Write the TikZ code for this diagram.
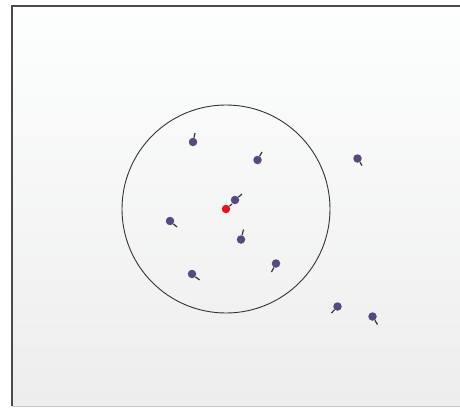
\documentclass[tikz,border=0pt]{standalone}
\usepackage{xcolor}
\usepackage{tikz}
\definecolor{bgtop}{HTML}{FDFEFE}
\definecolor{bgbottom}{HTML}{EDEDED}
\definecolor{framedark}{HTML}{4A4A4A}
\definecolor{framelight}{HTML}{C8C8C8}
\definecolor{dotpurple}{HTML}{574A7E}
\definecolor{dotred}{HTML}{E8121A}
\definecolor{vecgray}{HTML}{333333}

\begin{document}
\begin{tikzpicture}[
  x=1pt, y=-1pt,
  particula/.style={circle, fill=dotpurple, inner sep=0pt, minimum size=8.5pt},
  alvo/.style={circle, fill=dotred, inner sep=0pt, minimum size=8.5pt},
  vetor/.style={draw=vecgray, line width=1.2pt},
  raio/.style={draw=vecgray, line width=0.9pt}
]
  \useasboundingbox (0,0) rectangle (460,407);
  \shade[top color=bgtop, bottom color=bgbottom] (12,6) rectangle (460,406);
  \draw[framelight, line width=1pt] (12,406) -- (460,406);
  \draw[framedark, line width=1.5pt] (12,406) -- (12,6) -- (460,6);

  \node[circle, raio, minimum size=208pt, inner sep=0pt] (vizinhanca) at (226,209) {};

  \node[particula] (p1) at (193,142) {};
  \node[particula] (p2) at (257.5,160) {};
  \node[particula] (p3) at (235,200) {};
  \node[alvo] (centro) at (226,209) {};
  \node[particula] (p5) at (170,221) {};
  \node[particula] (p6) at (241,239.5) {};
  \node[particula] (p7) at (276,263.5) {};
  \node[particula] (p8) at (192,274) {};
  \node[particula] (p9) at (357.5,158.5) {};
  \node[particula] (p10) at (337.5,306.5) {};
  \node[particula] (p11) at (372.5,316.5) {};

  \coordinate (v1) at (195,133);
  \coordinate (v2) at (262,152);
  \coordinate (v3) at (242,194);
  \coordinate (v4) at (232,204);
  \coordinate (v5) at (177,227);
  \coordinate (v6) at (243.5,229.5);
  \coordinate (v7) at (271.5,272);
  \coordinate (v8) at (199.5,280);
  \coordinate (v9) at (362,165.5);
  \coordinate (v10) at (331.5,313);
  \coordinate (v11) at (377.5,324.5);

  \draw[vetor] (p1) -- (v1);
  \draw[vetor] (p2) -- (v2);
  \draw[vetor] (p3) -- (v3);
  \draw[vetor] (centro) -- (v4);
  \draw[vetor] (p5) -- (v5);
  \draw[vetor] (p6) -- (v6);
  \draw[vetor] (p7) -- (v7);
  \draw[vetor] (p8) -- (v8);
  \draw[vetor] (p9) -- (v9);
  \draw[vetor] (p10) -- (v10);
  \draw[vetor] (p11) -- (v11);
\end{tikzpicture}
\end{document}
